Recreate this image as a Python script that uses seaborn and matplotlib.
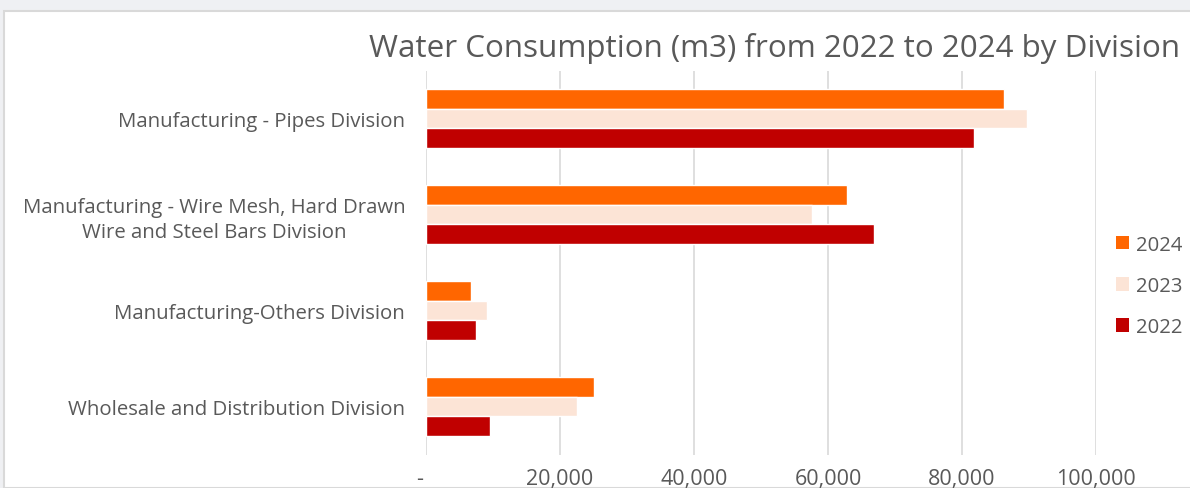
import matplotlib
matplotlib.use("Agg")
import matplotlib.pyplot as plt
from matplotlib.patches import Rectangle, Patch
from matplotlib.ticker import FuncFormatter, MultipleLocator
import seaborn as sns
import pandas as pd

divisions = [
    "Manufacturing - Pipes Division",
    "Manufacturing - Wire Mesh, Hard Drawn\nWire and Steel Bars Division",
    "Manufacturing-Others Division",
    "Wholesale and Distribution Division",
]
years = ["2024", "2023", "2022"]
values_2024 = [86300, 62800, 6700, 25100]
values_2023 = [89700, 57600, 9100, 22500]
values_2022 = [81800, 66900, 7500, 9500]
palette = {"2024": "#FF6600", "2023": "#FCE4D6", "2022": "#C00000"}

rows = []
for yr, vals in zip(years, [values_2024, values_2023, values_2022]):
    for d, v in zip(divisions, vals):
        rows.append({"Division": d, "Year": yr, "Consumption": v})
df = pd.DataFrame(rows)

sns.set_theme(style="white")
plt.rcParams["font.family"] = ["Open Sans", "DejaVu Sans"]
text_color = "#595959"

fig = plt.figure(figsize=(11.9, 4.89), dpi=100)
fig.patch.set_facecolor("#EFF0F3")
# white chart card with a thin grey border, kept behind the axes
card = Rectangle((4 / 1190, 0), 1.0, 1 - 12 / 489, transform=fig.transFigure,
                 facecolor="white", edgecolor="#D9D9D9", linewidth=1.5, zorder=-10)
fig.patches.append(card)

ax = fig.add_axes([426 / 1190, 1 - 455.5 / 489, (1096 - 426) / 1190, (455.5 - 71.5) / 489])
ax.set_facecolor("none")
sns.barplot(data=df, y="Division", x="Consumption", hue="Year", hue_order=years,
            order=divisions, palette=palette, orient="h", width=0.615,
            saturation=1, ax=ax, legend=False, zorder=3)

ax.set_xlim(0, 100000)
ax.xaxis.set_major_locator(MultipleLocator(20000))
# accounting-style number format: zero shown as a dash
ax.xaxis.set_major_formatter(FuncFormatter(lambda v, p: "-  " if v == 0 else f"{v:,.0f}"))
ax.grid(axis="x", color="#D9D9D9", linewidth=1.2, zorder=0)
ax.grid(axis="y", visible=False)
ax.set_axisbelow(True)
for s in ax.spines.values():
    s.set_visible(False)
ax.set_xlabel("")
ax.set_ylabel("")
ax.tick_params(axis="x", length=0, pad=10, labelsize=15.5, labelcolor=text_color)
ax.tick_params(axis="y", length=0, pad=15, labelsize=14.7, labelcolor=text_color)
for lbl in ax.get_yticklabels():
    lbl.set_multialignment("center")
    lbl.set_linespacing(1.3)

fig.text(1180 / 1190, 1 - 48 / 489, "Water Consumption (m3) from 2022 to 2024 by Division",
         ha="right", va="center", fontsize=22.6, color=text_color)

handles = [Patch(facecolor=palette[y], edgecolor="none") for y in years]
fig.legend(handles, years, loc="center left", bbox_to_anchor=(1098 / 1190, 1 - 287 / 489),
           frameon=False, fontsize=14.6, labelcolor=text_color, handlelength=0.65,
           handleheight=0.65, handletextpad=0.3, labelspacing=1.05)

fig.savefig("out.png", dpi=100, facecolor=fig.get_facecolor())
